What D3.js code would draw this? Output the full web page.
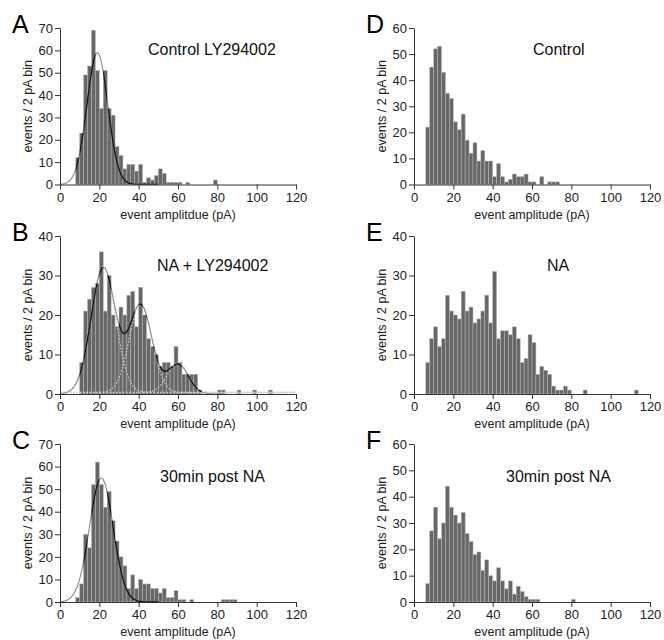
<!DOCTYPE html>
<html>
<head>
<meta charset="utf-8">
<script src="https://cdn.jsdelivr.net/npm/d3@7"></script>
<style>
  body { margin: 0; background: #fff; }
  svg { display: block; }
  text { font-family: "Liberation Sans", Arial, sans-serif; }
</style>
</head>
<body>
<div id="chart"></div>
<script>
// event counts per 2 pA bin; first bin starts at the given amplitude (pA)
var binWidth = 2;
var ampTicks = [0, 20, 40, 60, 80, 100, 120];

var startA = 8;
var countsA = [12,23,49,53,69,51,34,51,34,31,17,13,7,9,9,6,9,1,3,2,4,7,5,1,1,1,1,0,1,0,0,0,0,0,0,2];
var startB = 8;
var countsB = [0,8,21,24,27,28,36,21,30,20,17,22,20,25,26,17,27,20,14,12,10,7,8,8,7,12,8,5,5,5,5,1,0,0,0,0,1,1,0,0,0,1,0,0,0,1,0,0,0,1];
var startC = 8;
var countsC = [2,8,30,24,52,62,52,42,49,36,27,20,16,6,12,6,10,8,8,6,6,4,6,2,2,5,1,1,0,1,0,0,0,0,0,0,0,1,1,1,1];
var startD = 6;
var countsD = [22,45,52,53,43,35,33,24,21,27,17,12,16,9,13,9,9,3,8,3,1,2,4,3,3,4,1,1,0,3,0,1,1,1];
var startE = 6;
var countsE = [8,14,17,12,14,25,21,20,19,26,21,22,18,19,21,25,18,31,14,16,16,15,17,14,8,9,15,13,5,7,6,5,2,1,1,2,1,0,0,0,1,0,0,0,0,0,0,0,0,0,0,0,0,1];
var startF = 6;
var countsF = [7,27,36,24,30,44,36,33,30,34,26,23,18,19,12,16,10,8,13,8,5,8,3,6,4,2,1,1,1,0,0,0,0,0,0,0,0,1];

// gaussian fits: [amplitude, mean (pA), sd (pA)]
var fitA = [[59, 19, 5.3]];
var fitB = [[32, 22, 6.2], [22.5, 41, 5.8], [7.5, 60, 5.3]];
var fitC = [[55, 21, 6]];

var width = 664, height = 640;
var svg = d3.select("#chart").append("svg")
  .attr("width", width)
  .attr("height", height);

var colX = [60, 414];
var rows = [{ bottom: 184.5, top: 28 }, { bottom: 394, top: 236 }, { bottom: 602, top: 444 }];
var plotW = 236;

var panels = [
  { letter: "A", col: 0, row: 0, counts: countsA, start: startA, yMax: 70, fit: fitA, fitEnd: 50,
    title: "Control LY294002", tx: 88, ty: 27, xlab: "event amplitdue (pA)" },
  { letter: "B", col: 0, row: 1, counts: countsB, start: startB, yMax: 40, fit: fitB, fitEnd: 80,
    title: "NA + LY294002", tx: 97, ty: 35, xlab: "event amplitude (pA)" },
  { letter: "C", col: 0, row: 2, counts: countsC, start: startC, yMax: 70, fit: fitC, fitEnd: 50,
    title: "30min post NA", tx: 100, ty: 38, xlab: "event amplitude (pA)" },
  { letter: "D", col: 1, row: 0, counts: countsD, start: startD, yMax: 60, fit: null,
    title: "Control", tx: 119, ty: 27, xlab: "event amplitude (pA)" },
  { letter: "E", col: 1, row: 1, counts: countsE, start: startE, yMax: 40, fit: null,
    title: "NA", tx: 133, ty: 35, xlab: "event amplitude (pA)" },
  { letter: "F", col: 1, row: 2, counts: countsF, start: startF, yMax: 60, fit: null,
    title: "30min post NA", tx: 92, ty: 38, xlab: "event amplitude (pA)" }
];

function gauss(p, v) {
  return p[0] * Math.exp(-Math.pow(v - p[1], 2) / (2 * p[2] * p[2]));
}

panels.forEach(function (p) {
  var x0 = colX[p.col];
  var r = rows[p.row];
  var x = d3.scaleLinear().domain([0, 120]).range([x0, x0 + plotW]);
  var y = d3.scaleLinear().domain([0, p.yMax]).range([r.bottom, r.top]);

  var g = svg.append("g");

  var bins = p.counts.map(function (c, i) {
    return { lo: p.start + i * binWidth, hi: p.start + (i + 1) * binWidth, n: c };
  }).filter(function (d) { return d.n > 0; });

  // bars
  g.append("g").selectAll("rect")
    .data(bins)
    .enter()
    .append("rect")
    .attr("x", function (d) { return x(d.lo); })
    .attr("y", function (d) { return y(d.n); })
    .attr("width", function (d) { return x(d.hi) - x(d.lo); })
    .attr("height", function (d) { return y(0) - y(d.n); })
    .attr("fill", "#676767")
    .attr("stroke", "#b8b8b8")
    .attr("stroke-width", 0.5);

  if (p.fit) {
    var clipId = "clip" + p.letter;
    svg.append("defs").append("clipPath").attr("id", clipId)
      .selectAll("rect")
      .data(bins)
      .enter()
      .append("rect")
      .attr("x", function (d) { return x(d.lo); })
      .attr("y", function (d) { return y(d.n); })
      .attr("width", function (d) { return x(d.hi) - x(d.lo); })
      .attr("height", function (d) { return y(0) - y(d.n); });

    var line = d3.line()
      .x(function (d) { return x(d[0]); })
      .y(function (d) { return y(d[1]); })
      .curve(d3.curveBasis);

    // single components dotted (only when more than one); lifted 1px off the axis
    if (p.fit.length > 1) {
      p.fit.forEach(function (f) {
        var pts = d3.range(0, 120.01, 0.5).map(function (v) { return [v, gauss(f, v)]; });
        g.append("path")
          .attr("d", line(pts))
          .attr("transform", "translate(0,-1.5)")
          .attr("fill", "none")
          .attr("stroke", "#cfcfcf")
          .attr("stroke-width", 1.3)
          .attr("stroke-dasharray", "1.5,1.8");
      });
    }

    var sumPts = d3.range(0, p.fitEnd + 0.01, 0.5).map(function (v) {
      return [v, d3.sum(p.fit, function (f) { return gauss(f, v); })];
    });
    g.append("path")
      .attr("d", line(sumPts))
      .attr("fill", "none")
      .attr("stroke", "#8a8a8a")
      .attr("stroke-width", 1.1);
    g.append("path")
      .attr("d", line(sumPts))
      .attr("fill", "none")
      .attr("stroke", "#111")
      .attr("stroke-width", 1.3)
      .attr("clip-path", "url(#" + clipId + ")");
  }

  // axes
  var xAxis = g.append("g")
    .attr("transform", "translate(0," + r.bottom + ")")
    .call(d3.axisBottom(x).tickValues(ampTicks).tickSize(5).tickSizeOuter(0).tickPadding(3));
  var yAxis = g.append("g")
    .attr("transform", "translate(" + x0 + ",0)")
    .call(d3.axisLeft(y).ticks(p.yMax / 10).tickSize(5).tickSizeOuter(0).tickPadding(2));

  [xAxis, yAxis].forEach(function (a) {
    a.selectAll("path, line").attr("stroke", "#333").attr("stroke-width", 1);
    a.selectAll("text")
      .attr("fill", "#222")
      .style("font-size", "13px")
      .style("font-family", "'Liberation Sans', Arial, sans-serif");
  });

  // x label
  g.append("text")
    .attr("x", x0 + plotW / 2)
    .attr("y", r.bottom + 34)
    .attr("text-anchor", "middle")
    .attr("fill", "#222")
    .style("font-size", "12.5px")
    .text(p.xlab);

  // y label
  g.append("text")
    .attr("transform", "translate(" + (x0 - 28) + "," + ((r.top + r.bottom) / 2) + ") rotate(-90)")
    .attr("text-anchor", "middle")
    .attr("fill", "#222")
    .style("font-size", "12.5px")
    .text("events / 2 pA bin");

  // condition title
  g.append("text")
    .attr("x", x0 + p.tx)
    .attr("y", r.top + p.ty)
    .attr("fill", "#111")
    .style("font-size", "16px")
    .text(p.title);

  // panel letter
  g.append("text")
    .attr("x", x0 - 48)
    .attr("y", r.top + 5)
    .attr("fill", "#000")
    .style("font-size", "25px")
    .text(p.letter);
});
</script>
</body>
</html>
